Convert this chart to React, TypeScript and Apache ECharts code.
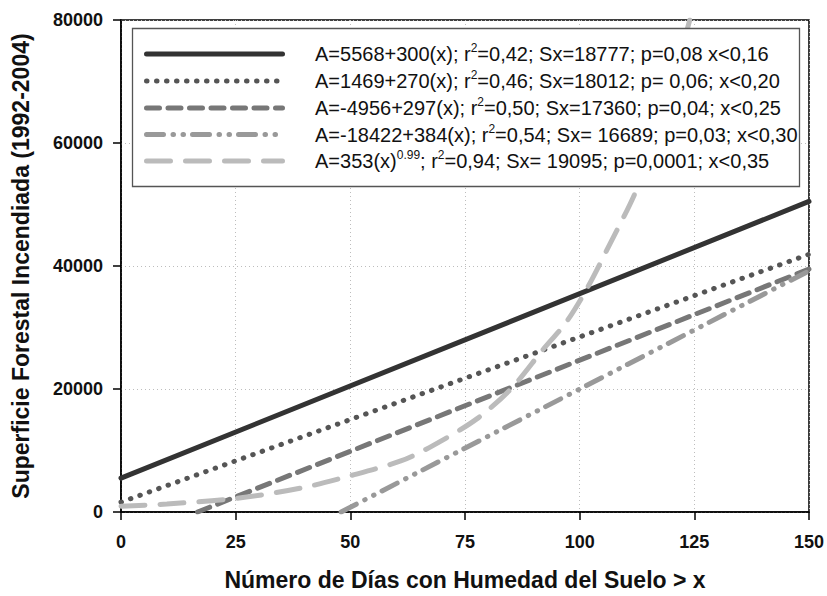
import React, { useEffect, useRef } from "react";
import * as echarts from "echarts";

// x axis ticks
const xTicks = [0, 25, 50, 75, 100, 125, 150];
const yTicks = [0, 20000, 40000, 60000, 80000];

// values
const solidLine = [[0, 5500], [150, 50500]];
const dottedLine = [[0, 1600], [150, 41900]];
const dashedLine = [[16.7, 0], [150, 39500]];
const dashDotLine = [[48, 0], [150, 39200]];
const curveLine = [
  [0, 950], [10, 1300], [25, 2200], [39, 3850], [50, 5900], [61, 8300],
  [68, 10800], [77.5, 15100], [85, 20000], [92, 26400], [97, 30800],
  [101.5, 36200], [106, 42700], [112.4, 52400], [118, 64000], [124, 80000],
];

const legendLabels = [
  "A=5568+300(x); r{sup|2}=0,42; Sx=18777; p=0,08 x<0,16",
  "A=1469+270(x); r{sup|2}=0,46; Sx=18012; p= 0,06; x<0,20",
  "A=-4956+297(x); r{sup|2}=0,50; Sx=17360; p=0,04; x<0,25",
  "A=-18422+384(x); r{sup|2}=0,54; Sx= 16689; p=0,03; x<0,30",
  "A=353(x){sup|0.99}; r{sup|2}=0,94; Sx= 19095; p=0,0001; x<0,35",
];

const colors = ["#333333", "#555555", "#777777", "#999999", "#bbbbbb"];
const dashes: (number[] | null)[] = [
  null,
  [0.5, 9.5],
  [13, 8.5],
  [17, 9.5, 0.5, 9.5, 0.5, 9],
  [24, 15],
];
const seriesData = [solidLine, dottedLine, dashedLine, dashDotLine, curveLine];

const FONT = "'Liberation Sans', Arial, Helvetica, sans-serif";

export default function App() {
  const ref = useRef<HTMLDivElement>(null);
  useEffect(() => {
    document.body.style.margin = "0";
    if (!ref.current) return;
    const chart = echarts.init(ref.current, null, { renderer: "svg" });

    const rowY = [54, 81, 108, 134.5, 161];
    const legendGraphics: any[] = [
      {
        type: "rect",
        shape: { x: 132.5, y: 28.5, width: 667, height: 158 },
        style: { fill: "#fff", stroke: "#555", lineWidth: 1.3 },
        z: 100,
      },
    ];
    legendLabels.forEach((lab, i) => {
      legendGraphics.push({
        type: "line",
        shape: { x1: 146.5, y1: rowY[i], x2: 282.5, y2: rowY[i] },
        style: {
          stroke: colors[i],
          lineWidth: 5,
          lineCap: "round",
          lineDash: dashes[i] || undefined,
        },
        z: 101,
      });
      legendGraphics.push({
        type: "text",
        x: 315,
        y: rowY[i],
        style: {
          text: lab,
          fontFamily: FONT,
          fontSize: 20,
          fill: "#111",
          verticalAlign: "middle",
          lineHeight: 24,
          rich: {
            sup: { fontSize: 12, verticalAlign: "top", lineHeight: 24, fontFamily: FONT, fill: "#111" },
          },
        },
        z: 101,
      });
    });

    chart.setOption({
      animation: false,
      backgroundColor: "#fff",
      grid: {
        left: 121,
        right: 18,
        top: 20,
        bottom: 83,
        show: true,
        borderColor: "#000",
        borderWidth: 1.5,
        backgroundColor: "transparent",
      },
      xAxis: {
        type: "value",
        min: xTicks[0],
        max: xTicks[xTicks.length - 1],
        interval: 25,
        name: "Número de Días con Humedad del Suelo > x",
        nameLocation: "middle",
        nameGap: 56,
        nameTextStyle: { fontFamily: FONT, fontSize: 23, fontWeight: "bold", color: "#111" },
        axisLine: { show: true, lineStyle: { color: "#000", width: 1.5 } },
        axisTick: { show: true, length: 8, lineStyle: { color: "#000", width: 1.5 } },
        axisLabel: { fontFamily: FONT, fontSize: 18, fontWeight: "bold", color: "#111", margin: 21 },
        splitLine: { show: true, lineStyle: { color: "#bdbdbd", type: [1, 3], width: 1 } },
      },
      yAxis: {
        type: "value",
        min: yTicks[0],
        max: yTicks[yTicks.length - 1],
        interval: 20000,
        name: "Superficie Forestal Incendiada (1992-2004)",
        nameLocation: "middle",
        nameGap: 89,
        nameTextStyle: { fontFamily: FONT, fontSize: 23, fontWeight: "bold", color: "#111" },
        axisLine: { show: true, lineStyle: { color: "#000", width: 1.5 } },
        axisTick: { show: true, length: 8, lineStyle: { color: "#000", width: 1.5 } },
        axisLabel: {
          fontFamily: FONT,
          fontSize: 18,
          fontWeight: "bold",
          color: "#111",
          margin: 18,
          formatter: (v: number) => String(v),
        },
        splitLine: { show: true, lineStyle: { color: "#bdbdbd", type: [1, 3], width: 1 } },
      },
      series: seriesData.map((d, i) => ({
        type: "line",
        data: d,
        showSymbol: false,
        symbol: "none",
        smooth: i === 4 ? 0.3 : false,
        clip: true,
        lineStyle: {
          color: colors[i],
          width: 5,
          type: dashes[i] || "solid",
          cap: "round",
        },
        z: 2 + i,
      })),
      graphic: legendGraphics,
    });

    return () => chart.dispose();
  }, []);
  return <div ref={ref} style={{ width: 827, height: 596 }} />;
}
